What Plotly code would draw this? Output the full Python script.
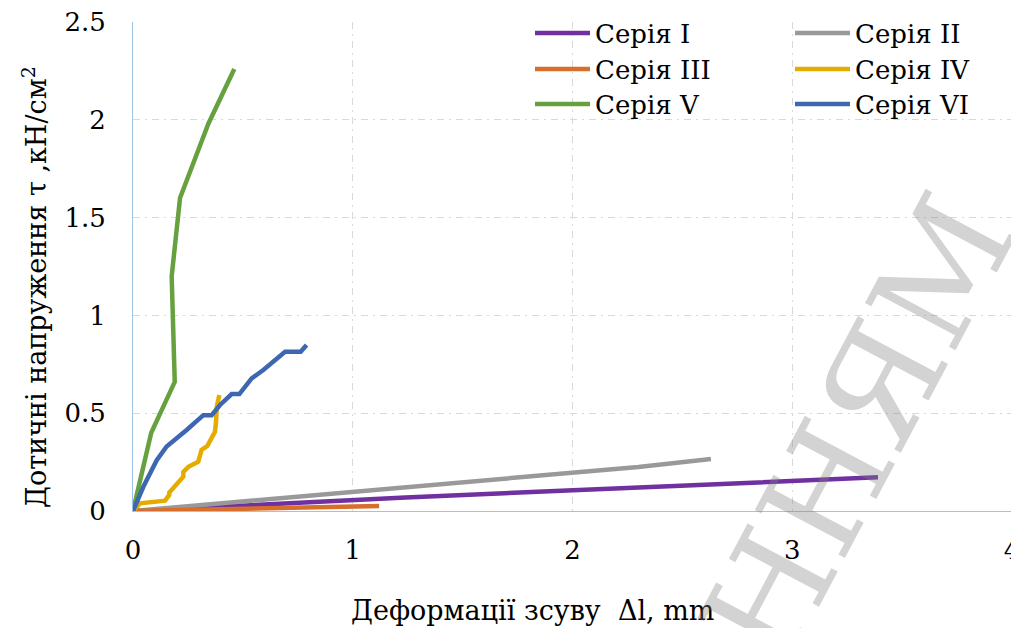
import plotly.graph_objects as go

# ---- data ----
names = ["Серія I", "Серія II", "Серія III", "Серія IV", "Серія V", "Серія VI"]

x1 = [0, 0.5, 1.0, 1.24, 2.03, 3.0, 3.39]
y1 = [0, 0.028, 0.055, 0.069, 0.107, 0.15, 0.172]

x2 = [0, 0.5, 1.0, 1.24, 1.5, 1.8, 2.03, 2.3, 2.63]
y2 = [0, 0.05, 0.1, 0.122, 0.147, 0.175, 0.198, 0.225, 0.266]

x3 = [0, 0.3, 0.6, 0.9, 1.12]
y3 = [0, 0.006, 0.012, 0.019, 0.025]

x4 = [0, 0.032, 0.146, 0.165, 0.165, 0.214, 0.229, 0.229, 0.252, 0.297, 0.312, 0.338, 0.358, 0.373, 0.378, 0.381, 0.393]
y4 = [0, 0.039, 0.053, 0.082, 0.094, 0.15, 0.175, 0.2, 0.226, 0.252, 0.312, 0.332, 0.38, 0.405, 0.457, 0.533, 0.593]

x5 = [0, 0.083, 0.19, 0.176, 0.214, 0.343, 0.461]
y5 = [0, 0.40, 0.66, 1.2, 1.6, 1.98, 2.26]

x6 = [0, 0.047, 0.108, 0.153, 0.244, 0.32, 0.358, 0.396, 0.449, 0.484, 0.54, 0.593, 0.692, 0.763, 0.79]
y6 = [0, 0.124, 0.26, 0.33, 0.414, 0.49, 0.49, 0.542, 0.598, 0.598, 0.678, 0.721, 0.814, 0.814, 0.849]

colors = ["#7030A0", "#999999", "#D86E2B", "#E5AC00", "#66A03F", "#3E67B1"]

xs = [x1, x2, x3, x4, x5, x6]
ys = [y1, y2, y3, y4, y5, y6]

x_title = "Деформації зсуву\u00a0 Δl, mm"
y_title = "Дотичні напруження τ ,кН/см<sup>2</sup>"
watermark = "ЕННЯМ"

FONT = "DejaVu Serif"

OFF = 8  # page body margin
W, H = 1019 - OFF, 628 - OFF
# plot area in page pixels: x 133..1012, y 22..511
L, R, T, B = 133 - OFF, W - (1012 - OFF), 22 - OFF, H - (511 - OFF)
PW, PH = W - L - R, H - T - B

def px(xp):
    return (xp - OFF - L) / PW

def py(yp):
    return (H - B - (yp - OFF)) / PH

fig = go.Figure()
for i in range(6):
    fig.add_trace(go.Scatter(
        x=xs[i], y=ys[i], mode="lines", name=names[i],
        line=dict(color=colors[i], width=4.5),
        legend="legend" if i == 0 else "legend%d" % (i + 1),
    ))

grid = dict(showgrid=True, gridcolor="#D9D9D9", gridwidth=1, griddash="7px,5px,2px,5px",
            zeroline=False, showline=True, linecolor="#9DC3E6", linewidth=1,
            ticks="", ticklabeloverflow="allow",
            tickfont=dict(family=FONT, size=26, color="black"))

layout = dict(
    width=W, height=H,
    margin=dict(l=L, r=R, t=T, b=B, autoexpand=False),
    paper_bgcolor="white", plot_bgcolor="white",
    font=dict(family=FONT, color="black"),
    xaxis=dict(range=[0, 4], dtick=1, ticklabelstandoff=16, **grid),
    yaxis=dict(range=[0, 2.5], dtick=0.5, ticklabelstandoff=21, **grid),
    showlegend=True,
)
leg_x = [530, 790]
leg_y = [33, 69, 104]
for i in range(6):
    key = "legend" if i == 0 else "legend%d" % (i + 1)
    layout[key] = dict(x=px(leg_x[i % 2]), y=py(leg_y[i // 2]), xanchor="left", yanchor="middle",
                       bgcolor="rgba(0,0,0,0)", font=dict(family=FONT, size=26, color="black"),
                       tracegroupgap=0, itemwidth=55)
fig.update_layout(**layout)

fig.add_annotation(text=x_title, xref="paper", yref="paper", x=px(532), y=py(610),
                   xanchor="center", yanchor="middle",
                   showarrow=False, font=dict(family=FONT, size=27, color="black"))
fig.add_annotation(text=y_title, xref="paper", yref="paper", x=px(34), y=py(287),
                   xanchor="center", yanchor="middle",
                   textangle=-90, showarrow=False, font=dict(family=FONT, size=27, color="black"))
fig.add_annotation(text=watermark, xref="paper", yref="paper", x=px(834), y=py(474),
                   xanchor="center", yanchor="middle",
                   textangle=-62, showarrow=False,
                   font=dict(family=FONT, size=140, color="rgba(128,128,128,0.35)"))

fig.write_html("out.html")
